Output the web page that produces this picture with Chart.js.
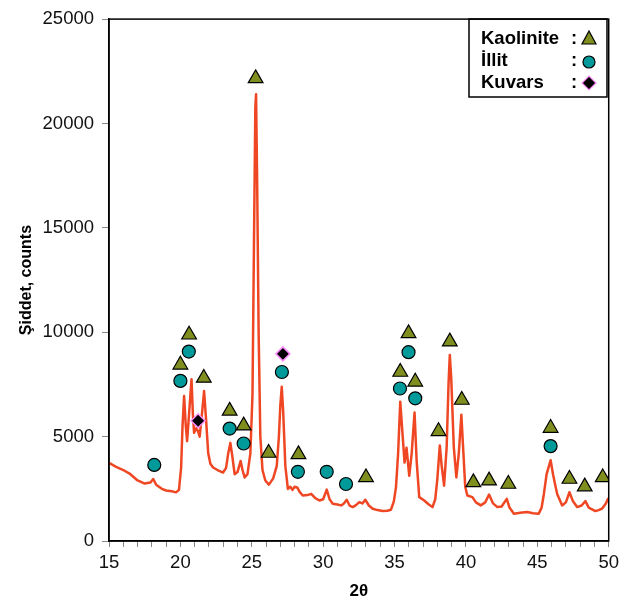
<!DOCTYPE html>
<html>
<head>
<meta charset="utf-8">
<script src="https://cdn.jsdelivr.net/npm/chart.js"></script>
<style>
    body { margin: 0; background: #fff; }
    #wrap { width: 624px; height: 606px; }
</style>
</head>
<body>
<div id="wrap"><canvas id="xrdChart" width="624" height="606"></canvas></div>
<script>
// XRD pattern (2theta, counts)
const twoTheta = [
    15.0, 15.5, 16.0, 16.5, 17.0, 17.5, 17.9, 18.1, 18.3, 18.7, 19.0, 19.4, 19.7, 19.9,
    20.05, 20.15, 20.26, 20.38, 20.47, 20.6, 20.78, 20.88, 20.96, 21.1, 21.24, 21.35, 21.5, 21.66,
    21.8, 21.95, 22.1, 22.29, 22.6, 22.99, 23.2, 23.35, 23.5, 23.65, 23.8, 24.0, 24.22, 24.35,
    24.5, 24.7, 24.9, 25.05, 25.15, 25.25, 25.3, 25.38, 25.48, 25.6, 25.75, 25.95, 26.2, 26.5,
    26.75, 26.9, 27.0, 27.1, 27.2, 27.35, 27.53, 27.7, 27.85, 28.0, 28.2, 28.35, 28.57, 28.9,
    29.16, 29.45, 29.74, 30.0, 30.25, 30.45, 30.67, 31.0, 31.26, 31.45, 31.65, 31.85, 32.07, 32.3,
    32.53, 32.75, 32.95, 33.2, 33.47, 33.8, 34.16, 34.5, 34.75, 34.95, 35.1, 35.25, 35.4, 35.55,
    35.7, 35.84, 35.95, 36.03, 36.2, 36.4, 36.55, 36.73, 37.08, 37.4, 37.66, 37.85, 38.0, 38.17,
    38.3, 38.47, 38.65, 38.78, 38.87, 38.97, 39.15, 39.33, 39.5, 39.68, 39.8, 39.95, 40.1, 40.45,
    40.7, 41.04, 41.35, 41.62, 41.9, 42.2, 42.5, 42.86, 43.05, 43.36, 43.8, 44.3, 44.7, 45.1,
    45.3, 45.46, 45.65, 45.93, 46.1, 46.25, 46.39, 46.74, 47.0, 47.25, 47.5, 47.79, 48.1, 48.37,
    48.6, 49.07, 49.3, 49.53, 49.8, 49.95, 50.0
];
const counts = [
    3740, 3550, 3400, 3200, 2900, 2750, 2800, 2970, 2700, 2500, 2420, 2380, 2330, 2450,
    3500, 5500, 6945, 5500, 4780, 6000, 7750, 6000, 5180, 5400, 5255, 5000, 6000, 7180,
    5800, 4200, 3700, 3520, 3400, 3280, 3500, 4200, 4700, 4000, 3200, 3300, 3835, 3400,
    3045, 3200, 4200, 7000, 14000, 20800, 21400, 17000, 10000, 5000, 3400, 2900, 2700, 3000,
    3600, 5000, 6500, 7385, 6200, 3600, 2495, 2600, 2450, 2600, 2550, 2350, 2180, 2200,
    2260, 2050, 1940, 2000, 2460, 2000, 1785, 1750, 1705, 1800, 1975, 1700, 1625, 1720,
    1860, 1800, 1975, 1700, 1545, 1480, 1435, 1450, 1500, 1900, 2570, 4200, 6675, 5200,
    3755, 4465, 3700, 3125, 4200, 6155, 3800, 2100, 1940, 1750, 1625, 2000, 3000, 4580,
    3600, 2650, 4500, 7500, 8915, 7800, 4500, 3045, 4200, 6045, 4500, 2600, 2180, 2100,
    1850, 1705, 1850, 2225, 1800, 1625, 1650, 2020, 1600, 1310, 1350, 1390, 1330, 1310,
    1600, 2255, 3200, 3865, 3200, 2700, 2255, 1705, 1850, 2335, 1900, 1625, 1700, 1910,
    1600, 1435, 1480, 1550, 1800, 2020, 1950
];

// phase markers (position, height of the symbol)
const kaoliniteX = [20.0, 20.61, 21.64, 23.45, 24.43, 25.27, 26.18, 28.27, 33.0, 35.4, 35.98, 36.45, 38.08, 38.87, 39.71, 40.52, 41.62, 42.97, 45.93, 47.25, 48.32, 49.58];
const kaoliniteY = [8440, 9880, 7810, 6235, 5525, 22160, 4215, 4150, 3045, 8095, 9945, 7625, 5255, 9550, 6755, 2810, 2890, 2730, 5410, 2970, 2605, 3045];
const illitX = [18.17, 20.0, 20.59, 23.45, 24.43, 27.11, 28.23, 30.25, 31.6, 35.38, 35.98, 36.45, 45.93];
const illitY = [3645, 7670, 9075, 5385, 4670, 8095, 3315, 3315, 2730, 7305, 9045, 6835, 4545];
const kuvarsX = [21.24, 27.18];
const kuvarsY = [5760, 8965];

const legendLabels = ['Kaolinite', 'İllit', 'Kuvars'];

const toPoints = (xs, ys) => xs.map((x, i) => ({ x: x, y: ys[i] }));

const OLIVE = '#7f8e1f';
const TEAL = '#009a9a';

// frame round the plot + the boxed legend in the top right corner
const framePlugin = {
    id: 'frame',
    afterDraw(chart) {
        const { ctx, chartArea: a } = chart;
        ctx.save();
        ctx.strokeStyle = '#000';
        ctx.lineWidth = 1.5;
        ctx.strokeRect(a.left, a.top, a.right - a.left, a.bottom - a.top);

        // legend box
        ctx.lineWidth = 1.5;
        ctx.strokeRect(469, 19, 138, 78);
        ctx.font = 'bold 18.5px "Liberation Sans", Arial, sans-serif';
        ctx.fillStyle = '#000';
        ctx.textBaseline = 'middle';
        const rows = [39, 61, 83];
        legendLabels.forEach((txt, i) => {
            ctx.textAlign = 'left';
            ctx.fillText(txt, 481, rows[i]);
            ctx.fillText(':', 571, rows[i]);
        });

        const mx = 589;
        ctx.lineWidth = 1.2;
        // triangle
        ctx.beginPath();
        ctx.moveTo(mx, rows[0] - 8);
        ctx.lineTo(mx + 7, rows[0] + 5);
        ctx.lineTo(mx - 7, rows[0] + 5);
        ctx.closePath();
        ctx.fillStyle = OLIVE;
        ctx.fill();
        ctx.strokeStyle = '#000';
        ctx.stroke();
        // circle
        ctx.beginPath();
        ctx.arc(mx, rows[1] + 1, 6, 0, Math.PI * 2);
        ctx.fillStyle = TEAL;
        ctx.fill();
        ctx.stroke();
        // diamond
        ctx.beginPath();
        ctx.moveTo(mx, rows[2] - 7);
        ctx.lineTo(mx + 7, rows[2]);
        ctx.lineTo(mx, rows[2] + 7);
        ctx.lineTo(mx - 7, rows[2]);
        ctx.closePath();
        ctx.fillStyle = '#000';
        ctx.fill();
        ctx.strokeStyle = '#ff8cff';
        ctx.stroke();
        ctx.restore();
    }
};

document.addEventListener('DOMContentLoaded', () => {
    const ctx = document.getElementById('xrdChart').getContext('2d');
    Chart.defaults.font.family = '"Liberation Sans", Arial, sans-serif';
    Chart.defaults.color = '#111';

    new Chart(ctx, {
        type: 'scatter',
        data: {
            datasets: [
                {
                    label: 'Kaolinite',
                    data: toPoints(kaoliniteX, kaoliniteY),
                    pointStyle: 'triangle',
                    pointRadius: 8.5,
                    backgroundColor: OLIVE,
                    borderColor: '#000',
                    borderWidth: 1.2,
                    order: 1
                },
                {
                    label: 'İllit',
                    data: toPoints(illitX, illitY),
                    pointStyle: 'circle',
                    pointRadius: 6.5,
                    backgroundColor: TEAL,
                    borderColor: '#000',
                    borderWidth: 1.2,
                    order: 1
                },
                {
                    label: 'Kuvars',
                    data: toPoints(kuvarsX, kuvarsY),
                    pointStyle: 'rectRot',
                    pointRadius: 7,
                    backgroundColor: '#000',
                    borderColor: '#ff8cff',
                    borderWidth: 1.5,
                    order: 1
                },
                {
                    label: 'pattern',
                    data: toPoints(twoTheta, counts),
                    showLine: true,
                    pointRadius: 0,
                    borderColor: '#ef4723',
                    borderWidth: 2.5,
                    borderJoinStyle: 'round',
                    tension: 0,
                    order: 2
                }
            ]
        },
        options: {
            responsive: false,
            animation: false,
            layout: { padding: { left: 17, right: 14, top: 13, bottom: 4 } },
            plugins: {
                legend: { display: false },
                tooltip: { enabled: false }
            },
            scales: {
                x: {
                    type: 'linear',
                    min: 15,
                    max: 50,
                    afterFit: (scale) => { scale.height = 61; },
                    ticks: {
                        stepSize: 1,
                        autoSkip: false,
                        maxRotation: 0,
                        padding: 5,
                        font: { size: 18.5 },
                        callback: (v) => (v % 5 === 0 ? String(v) : '')
                    },
                    grid: { drawOnChartArea: false, tickLength: 6, color: '#888' },
                    border: { color: '#000', width: 1.5 },
                    title: {
                        display: true,
                        text: '2θ',
                        font: { size: 17, weight: 'bold' },
                        color: '#000',
                        padding: { top: 0, bottom: 0 }
                    }
                },
                y: {
                    min: 0,
                    max: 25000,
                    afterFit: (scale) => { scale.width = 92; },
                    ticks: {
                        stepSize: 5000,
                        padding: 8,
                        font: { size: 18.5 },
                        callback: (v) => String(v)
                    },
                    grid: { drawOnChartArea: false, tickLength: 7, color: '#888' },
                    border: { color: '#000', width: 1.5 },
                    title: {
                        display: true,
                        text: 'Şiddet, counts',
                        font: { size: 16, weight: 'bold' },
                        color: '#000',
                        padding: { top: 0, bottom: 0 }
                    }
                }
            }
        },
        plugins: [framePlugin]
    });
});
</script>
</body>
</html>
